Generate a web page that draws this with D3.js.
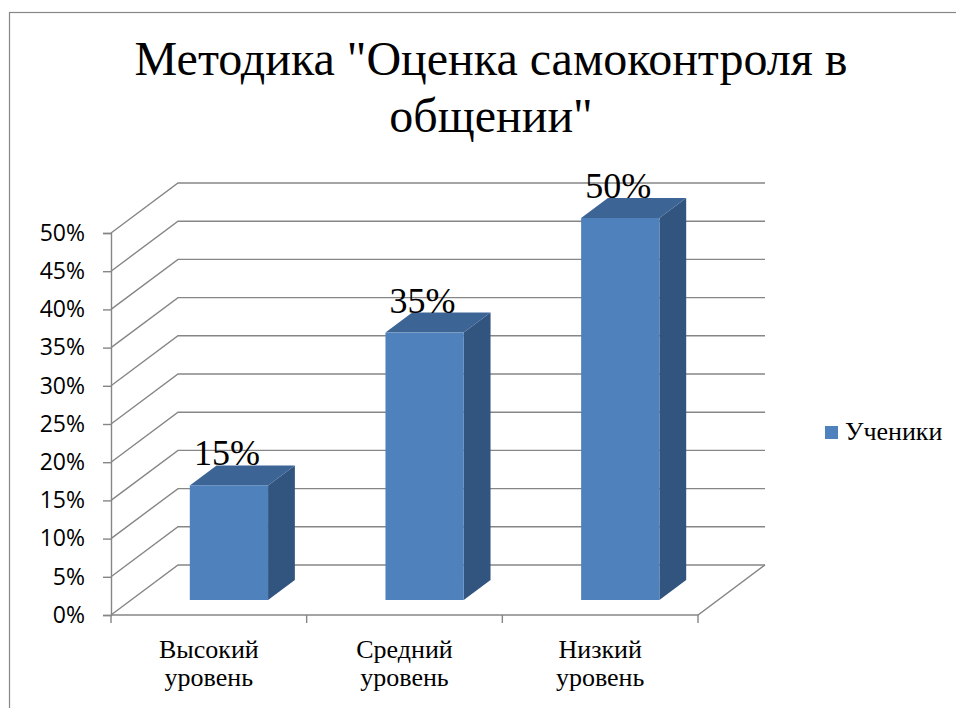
<!DOCTYPE html>
<html>
<head>
<meta charset="utf-8">
<script src="https://cdn.jsdelivr.net/npm/d3@7"></script>
<style>
  body { margin: 0; background: #fff; }
  svg { display: block; }
  .serif { font-family: "Liberation Serif", "Times New Roman", serif; }
  .sans { font-family: "Open Sans", sans-serif; }
</style>
</head>
<body>
<div id="chart"></div>
<script>
const titleLines = ["Методика \"Оценка самоконтроля в", "общении\""];
const categories = [["Высокий", "уровень"], ["Средний", "уровень"], ["Низкий", "уровень"]];
const seriesName = "Ученики";
const values = [0.15, 0.35, 0.50];
const yTicks = [0, 0.05, 0.10, 0.15, 0.20, 0.25, 0.30, 0.35, 0.40, 0.45, 0.50];

const width = 956;
const height = 708;

// 3d depth offset of the back wall
const depth = { dx: 67, dy: -50 };

const gridColor = "#868686";

const svg = d3.select("#chart")
  .append("svg")
  .attr("width", width)
  .attr("height", height);

// chart border
svg.append("rect")
  .attr("x", 9.5)
  .attr("y", 12.5)
  .attr("width", 980)
  .attr("height", 720)
  .attr("fill", "none")
  .attr("stroke", "#878787")
  .attr("stroke-width", 1.2);

const x = d3.scaleBand()
  .domain(d3.range(categories.length))
  .range([111, 698]);

const y = d3.scaleLinear()
  .domain([0, 0.5])
  .range([615, 233]);

// title
const title = svg.append("text")
  .attr("class", "serif")
  .attr("text-anchor", "middle")
  .attr("font-size", 48)
  .attr("fill", "#000");
titleLines.forEach((t, i) => {
  title.append("tspan")
    .attr("x", 491)
    .attr("y", 75 + i * 57)
    .text(t);
});

// gridlines: left wall diagonal + back wall
const grid = svg.append("g")
  .attr("fill", "none")
  .attr("stroke", gridColor)
  .attr("stroke-width", 1.4);

grid.selectAll("path")
  .data(yTicks)
  .join("path")
  .attr("d", d => {
    const yf = y(d);
    return `M${x.range()[0]},${yf} L${x.range()[0] + depth.dx},${yf + depth.dy} L${x.range()[1] + depth.dx},${yf + depth.dy}`;
  });

// floor front + right edge
grid.append("path")
  .attr("d", `M${x.range()[0]},${y(0)} L${x.range()[1]},${y(0)} L${x.range()[1] + depth.dx},${y(0) + depth.dy}`);

// y axis
const yAxis = svg.append("g")
  .attr("transform", `translate(${x.range()[0]},0)`)
  .call(d3.axisLeft(y).tickValues(yTicks).tickFormat(d3.format(".0%")).tickSize(8).tickPadding(18));
yAxis.attr("font-family", null).attr("font-size", null);
yAxis.select(".domain").attr("stroke", gridColor).attr("stroke-width", 1.4);
yAxis.selectAll(".tick line").attr("stroke", gridColor).attr("stroke-width", 1.4);
yAxis.selectAll(".tick text")
  .attr("class", "sans")
  .attr("font-size", 23)
  .attr("fill", "#000");

// x ticks at category boundaries
const xBounds = d3.range(categories.length + 1).map(i => x.range()[0] + i * x.step());
svg.append("g")
  .selectAll("line")
  .data(xBounds)
  .join("line")
  .attr("x1", d => d).attr("x2", d => d)
  .attr("y1", y(0)).attr("y2", y(0) + 8)
  .attr("stroke", gridColor)
  .attr("stroke-width", 1.4);

// x labels
const xLabels = svg.append("g")
  .attr("class", "serif")
  .attr("font-size", 26)
  .attr("text-anchor", "middle")
  .attr("fill", "#000");
categories.forEach((lines, i) => {
  const t = xLabels.append("text");
  lines.forEach((ln, j) => {
    t.append("tspan")
      .attr("x", x(i) + x.bandwidth() / 2)
      .attr("y", 658 + j * 28)
      .text(ln);
  });
});

// bars (3d boxes) placed at 30%..70% of the depth
const bw = x.bandwidth() * 0.4;
const off = { dx: depth.dx * 0.3, dy: depth.dy * 0.3 };
const bd = { dx: depth.dx * 0.4, dy: depth.dy * 0.4 };

const bars = svg.append("g")
  .selectAll("g")
  .data(values)
  .join("g");

bars.each(function (v, i) {
  const g = d3.select(this);
  const x0 = x(i) + x.bandwidth() * 0.3 + off.dx;
  const x1 = x0 + bw;
  const yb = y(0) + off.dy;
  const yt = y(v) + off.dy;
  // side
  g.append("path")
    .attr("d", `M${x1},${yb} L${x1 + bd.dx},${yb + bd.dy} L${x1 + bd.dx},${yt + bd.dy} L${x1},${yt} Z`)
    .attr("fill", "#32557F");
  // top
  g.append("path")
    .attr("d", `M${x0},${yt} L${x0 + bd.dx},${yt + bd.dy} L${x1 + bd.dx},${yt + bd.dy} L${x1},${yt} Z`)
    .attr("fill", "#3C6596");
  // front
  g.append("rect")
    .attr("x", x0)
    .attr("y", yt)
    .attr("width", bw)
    .attr("height", yb - yt)
    .attr("fill", "#4F81BD");
  // label
  g.append("text")
    .attr("class", "serif")
    .attr("x", x0 + bw / 2 - 2)
    .attr("y", yt + bd.dy)
    .attr("text-anchor", "middle")
    .attr("font-size", 36)
    .attr("fill", "#000")
    .text(d3.format(".0%")(v));
});

// legend
const legend = svg.append("g");
legend.append("rect")
  .attr("x", 825).attr("y", 426)
  .attr("width", 13).attr("height", 13)
  .attr("fill", "#4F81BD");
legend.append("text")
  .attr("class", "serif")
  .attr("x", 845).attr("y", 440)
  .attr("font-size", 26)
  .attr("fill", "#000")
  .text(seriesName);
</script>
</body>
</html>
